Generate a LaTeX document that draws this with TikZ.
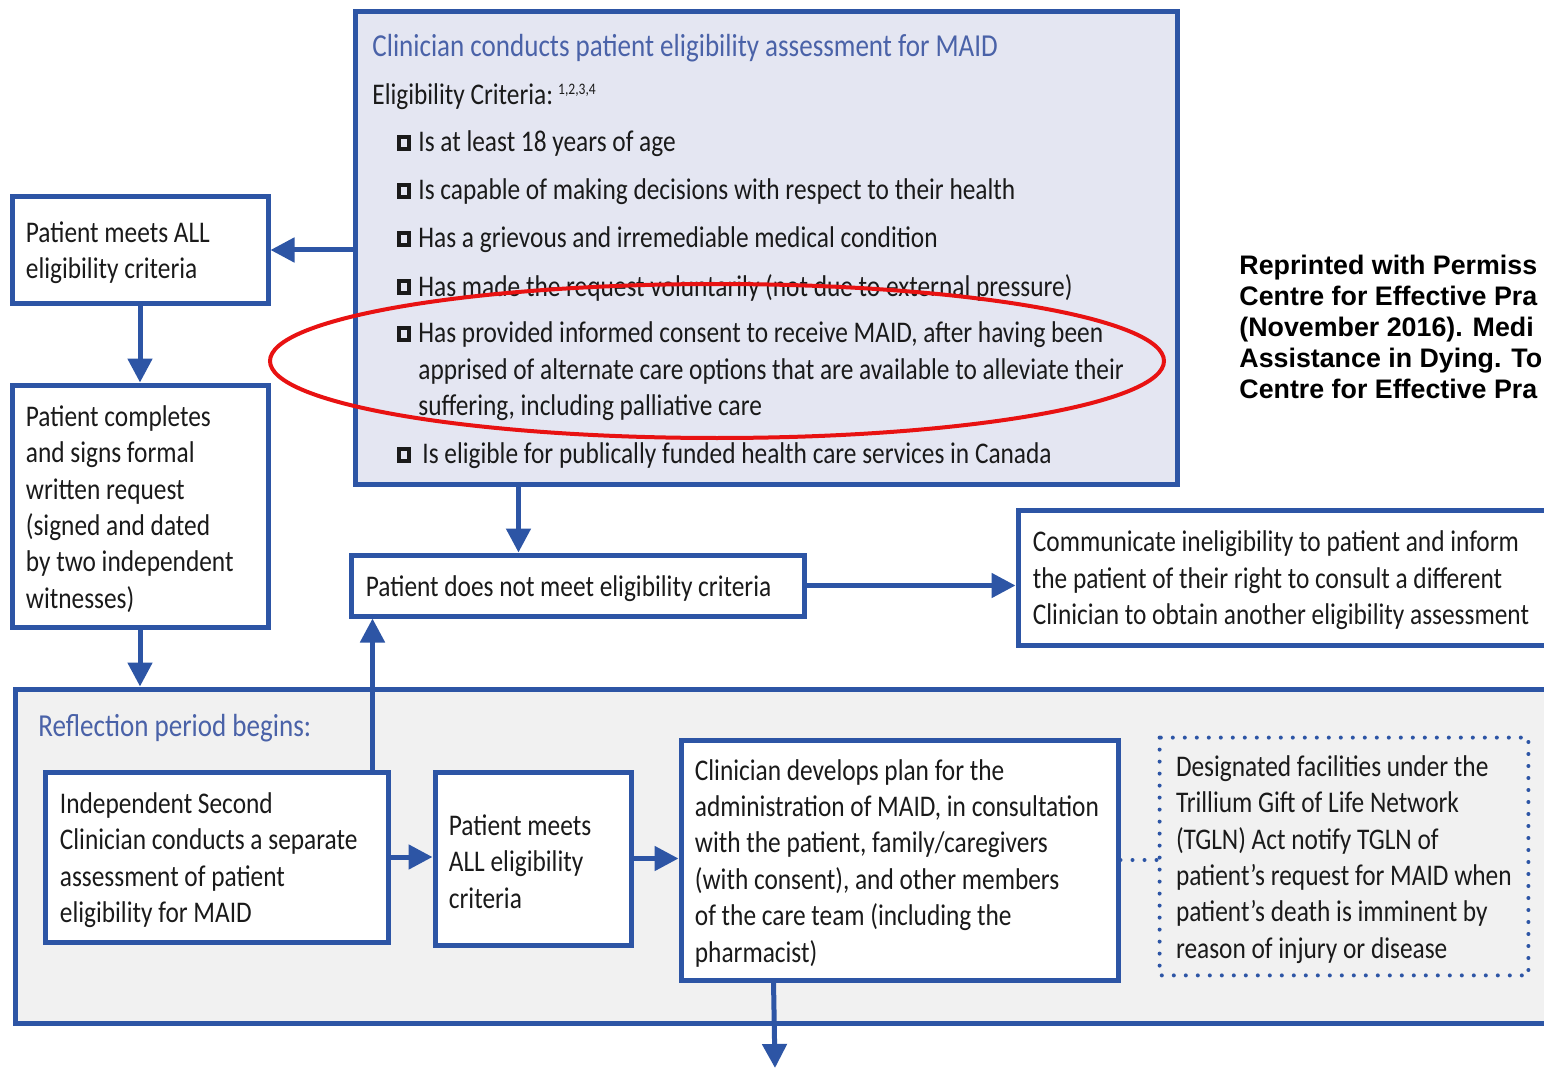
\documentclass[tikz,border=0pt]{standalone}
\usepackage{fontspec}
\setmainfont{Carlito}[FakeStretch=0.845]
\newfontfamily\reprint{Liberation Sans}
\usetikzlibrary{arrows.meta,calc}
\definecolor{bl}{RGB}{45,85,165}
\definecolor{tb}{RGB}{74,98,168}
\definecolor{lav}{RGB}{228,230,242}
\definecolor{rgrey}{RGB}{241,241,241}
\definecolor{ink}{RGB}{26,26,26}
\definecolor{redl}{RGB}{232,18,18}
\newcommand{\fs}{\fontsize{15pt}{18.2pt}\selectfont}
\newcommand{\fst}{\fontsize{16pt}{19pt}\selectfont}
\newcommand{\cbox}{{\setlength{\fboxsep}{0pt}\setlength{\fboxrule}{2pt}\fbox{\rule{2.8pt}{0pt}\rule{0pt}{4pt}}}}
\begin{document}
\begin{tikzpicture}[x=0.5pt,y=-0.5pt,
  box/.style={draw=bl, line width=2.5pt, fill=white, inner sep=0pt},
  txt/.style={anchor=west, align=left, inner sep=0pt, font=\fs, text=ink, yshift=-1.5pt},
  ttl/.style={anchor=west, inner sep=0pt, font=\fst, text=tb, yshift=-1.5pt},
  chk/.style={inner sep=0pt, text=ink, yshift=-1pt},
  arr/.style={draw=bl, line width=2.5pt, -{Triangle[length=12pt,width=12pt]}},
  dotline/.style={draw=bl, line width=2pt, dash pattern=on 0pt off 6pt, line cap=round},
  ring/.style={draw=redl, line width=2pt}]
\useasboundingbox (0,0) rectangle (1544,1070);
\clip (0,0) rectangle (1544,1070);
\fill[white] (0,0) rectangle (1544,1070);

% reflection period container
\node[box, fill=rgrey, minimum width=782.5pt, minimum height=167pt] (R) at (797.5,856) {};
\node[ttl] (Rt) at (38,725) {Reflection period begins:};

% criteria box
\node[box, fill=lav, minimum width=411pt, minimum height=236pt] (C) at (766,248) {};
\node[ttl] (Ct) at (372,45) {Clinician conducts patient eligibility assessment for MAID};
\node[txt] (Ce) at (372,94) {Eligibility Criteria:\,\raisebox{5pt}{\fontsize{8pt}{8pt}\selectfont 1,2,3,4}};
\node[chk] (k1) at (404,141) {\cbox};
\node[txt] (t1) at (418,141) {Is at least 18 years of age};
\node[chk] (k2) at (404,189) {\cbox};
\node[txt] (t2) at (418,189) {Is capable of making decisions with respect to their health};
\node[chk] (k3) at (404,237) {\cbox};
\node[txt] (t3) at (418,237) {Has a grievous and irremediable medical condition};
\node[chk] (k4) at (404,285) {\cbox};
\node[txt] (t4) at (418,285) {Has made the request voluntarily (not due to external pressure)};
\node[chk] (k5) at (404,332) {\cbox};
\node[txt] (t5) at (418,368.5) {Has provided informed consent to receive MAID, after having been\\apprised of alternate care options that are available to alleviate their\\suffering, including palliative care};
\node[chk] (k6) at (404,453) {\cbox};
\node[txt] (t6) at (422,453) {Is eligible for publically funded health care services in Canada};

% left column
\node[box, minimum width=128pt, minimum height=53pt] (A) at (140,250) {};
\node[txt] (At) at ([xshift=8pt]A.west) {Patient meets ALL\\eligibility criteria};
\node[box, minimum width=128pt, minimum height=121pt] (B) at (140,506) {};
\node[txt] (Bt) at ([xshift=8pt]B.west) {Patient completes\\and signs formal\\written request\\(signed and dated\\by two independent\\witnesses)};

% not eligible
\node[box, minimum width=226.5pt, minimum height=30.5pt] (D) at (577.5,585.5) {};
\node[txt] (Dt) at ([xshift=8.5pt]D.west) {Patient does not meet eligibility criteria};
\node[box, minimum width=281pt, minimum height=67.5pt] (E) at (1299,577.5) {};
\node[txt] (Et) at ([xshift=8.5pt]E.west) {Communicate ineligibility to patient and inform\\the patient of their right to consult a different\\Clinician to obtain another eligibility assessment};

% reflection period boxes
\node[box, minimum width=171.5pt, minimum height=85pt] (F) at (216.5,857) {};
\node[txt] (Ft) at ([xshift=8.5pt]F.west) {Independent Second\\Clinician conducts a separate\\assessment of patient\\eligibility for MAID};
\node[box, minimum width=98pt, minimum height=86.5pt] (G) at (533,858.5) {};
\node[txt] (Gt) at ([xshift=8pt]G.west) {Patient meets\\ALL eligibility\\criteria};
\node[box, minimum width=218.5pt, minimum height=120pt] (H) at (899.5,860) {};
\node[txt] (Ht) at ([xshift=8pt]H.west) {Clinician develops plan for the\\administration of MAID, in consultation\\with the patient, family/caregivers\\(with consent), and other members\\of the care team (including the\\pharmacist)};
\node[inner sep=0pt, minimum width=184pt, minimum height=118.5pt] (I) at (1344,856.5) {};
\draw[dotline] (I.north west) rectangle (I.south east);
\node[txt] (It) at ([xshift=8pt]I.west) {Designated facilities under the\\Trillium Gift of Life Network\\(TGLN) Act notify TGLN of\\patient’s request for MAID when\\patient’s death is imminent by\\reason of injury or disease};

% reprint note
\node[anchor=west, align=left, inner sep=0pt, font=\reprint\bfseries\fontsize{13.4pt}{15.5pt}\selectfont, text=black] (P) at (1239,327) {Reprinted with Permiss\\Centre for Effective Pra\\(November 2016). Medi\\Assistance in Dying. To\\Centre for Effective Pra};

% connectors
\draw[arr] (A.east -| C.west) -- (A.east);
\draw[arr] (A.south) -- (B.north);
\draw[arr] (B.south) -- (B.south |- R.north);
\coordinate (cd) at ($(C.south west)!0.2007!(C.south east)$);
\draw[arr] (cd) -- (cd |- D.north);
\draw[arr] (D.east) -- (D.east -| E.west);
\coordinate (fu) at ([xshift=-9pt]F.north east);
\draw[arr] (fu) -- (fu |- D.south);
\draw[arr] (F.east) -- (F.east -| G.west);
\draw[arr] (G.east) -- (G.east -| H.west);
\draw[dotline] (H.east) -- (H.east -| I.west);
\coordinate (hd) at ($(H.south west)!0.215!(H.south east)$);
\coordinate (out) at (775,1068);
\draw[arr] (hd) -- (out);

% red highlight
\draw[ring] (717,361) ellipse [x radius=223.5pt, y radius=38.5pt];
\end{tikzpicture}
\end{document}
